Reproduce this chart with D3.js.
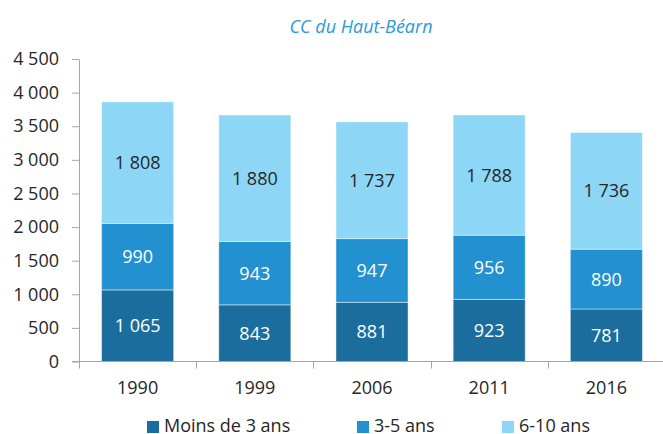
<!DOCTYPE html>
<html>
<head>
<meta charset="utf-8">
<script src="https://cdn.jsdelivr.net/npm/d3@7"></script>
<style>
  body { margin: 0; background: #fff; }
  svg { font-family: 'Open Sans', sans-serif; }
</style>
</head>
<body>
<div id="chart"></div>
<script>
const years = ['1990', '1999', '2006', '2011', '2016'];
const seriesNames = ['Moins de 3 ans', '3-5 ans', '6-10 ans'];
const moins3 = [1065, 843, 881, 923, 781];
const ans3a5 = [990, 943, 947, 956, 890];
const ans6a10 = [1808, 1880, 1737, 1788, 1736];
const yTicks = [0, 500, 1000, 1500, 2000, 2500, 3000, 3500, 4000, 4500];

const colors = ['#1b6d9e', '#2390d0', '#8dd6f6'];
const labelColors = ['#fff', '#fff', '#262626'];

const width = 663;
const height = 434;
const marginLeft = 79;
const marginRight = -2;
const marginTop = 59;
const marginBottom = 72;

// table for the stack layout
const table = years.map((y, i) => ({
  year: y,
  [seriesNames[0]]: moins3[i],
  [seriesNames[1]]: ans3a5[i],
  [seriesNames[2]]: ans6a10[i],
}));

const stacked = d3.stack().keys(seriesNames)(table);

const x = d3
  .scaleBand()
  .domain(years)
  .range([marginLeft, width - marginRight])
  .paddingInner(0.385)
  .paddingOuter(0.1925);

const y = d3
  .scaleLinear()
  .domain([0, 4500])
  .range([height - marginBottom - 0.5, marginTop]);

// french thousands separator
const fmt = (v) => d3.format(',')(v).replace(/,/g, '\u00a0');

const svg = d3
  .select('#chart')
  .append('svg')
  .attr('width', width)
  .attr('height', height);

svg
  .append('text')
  .attr('x', 361)
  .attr('y', 33)
  .attr('text-anchor', 'middle')
  .attr('font-style', 'italic')
  .attr('font-size', 18)
  .attr('fill', '#2a9ad8')
  .text('CC du Haut-Béarn');

// y axis
const yAxis = svg
  .append('g')
  .attr('transform', `translate(${marginLeft},0)`)
  .call(
    d3.axisLeft(y).tickValues(yTicks).tickSize(7).tickSizeOuter(0).tickFormat(fmt)
  );
yAxis.select('.domain').attr('stroke', '#a6a6a6');
yAxis.selectAll('.tick line').attr('stroke', '#a6a6a6');
yAxis
  .selectAll('.tick text')
  .attr('font-size', 18)
  .attr('fill', '#262626')
  .attr('font-family', "'Open Sans', sans-serif")
  .attr('x', -20);

// bars
const layer = svg
  .append('g')
  .selectAll('g')
  .data(stacked)
  .join('g')
  .attr('fill', (d, i) => colors[i]);

layer
  .selectAll('rect')
  .data((d) => d)
  .join('rect')
  .attr('x', (d) => x(d.data.year))
  .attr('y', (d) => y(d[1]))
  .attr('width', x.bandwidth())
  .attr('height', (d) => y(d[0]) - y(d[1]))
  .attr('stroke', '#fff')
  .attr('stroke-opacity', 0.45)
  .attr('stroke-width', 1);

layer
  .selectAll('text')
  .data((d, i) => d.map((v) => ({ v, i })))
  .join('text')
  .attr('x', (d) => x(d.v.data.year) + x.bandwidth() / 2)
  .attr('y', (d) => y((d.v[0] + d.v[1]) / 2))
  .attr('dy', '0.36em')
  .attr('text-anchor', 'middle')
  .attr('font-size', 18)
  .attr('fill', (d) => labelColors[d.i])
  .text((d) => fmt(d.v[1] - d.v[0]));

// x axis with ticks between categories
const xAxisG = svg
  .append('g')
  .attr('transform', `translate(0,${y(0)})`);
xAxisG
  .append('line')
  .attr('x1', marginLeft - 7)
  .attr('x2', width)
  .attr('stroke', '#a6a6a6');
const step = x.step();
const bounds = years.map((yr) => x(yr) - (step - x.bandwidth()) / 2);
xAxisG
  .selectAll('line.sep')
  .data(bounds)
  .join('line')
  .attr('class', 'sep')
  .attr('x1', (d) => Math.round(d) + 0.5)
  .attr('x2', (d) => Math.round(d) + 0.5)
  .attr('y1', 0)
  .attr('y2', 7)
  .attr('stroke', '#a6a6a6');
xAxisG
  .selectAll('text')
  .data(years)
  .join('text')
  .attr('x', (d) => x(d) + x.bandwidth() / 2)
  .attr('y', 32)
  .attr('text-anchor', 'middle')
  .attr('font-size', 18)
  .attr('fill', '#262626')
  .text((d) => d);

// legend
const legend = svg.append('g').attr('transform', 'translate(0,432)');
const legendX = [147, 357, 502];
const item = legend
  .selectAll('g')
  .data(seriesNames)
  .join('g')
  .attr('transform', (d, i) => `translate(${legendX[i]},0)`);
item
  .append('rect')
  .attr('y', -11)
  .attr('width', 12)
  .attr('height', 12)
  .attr('fill', (d, i) => colors[i]);
item
  .append('text')
  .attr('x', 17)
  .attr('y', 0)
  .attr('font-size', 18)
  .attr('fill', '#262626')
  .text((d) => d);
</script>
</body>
</html>
